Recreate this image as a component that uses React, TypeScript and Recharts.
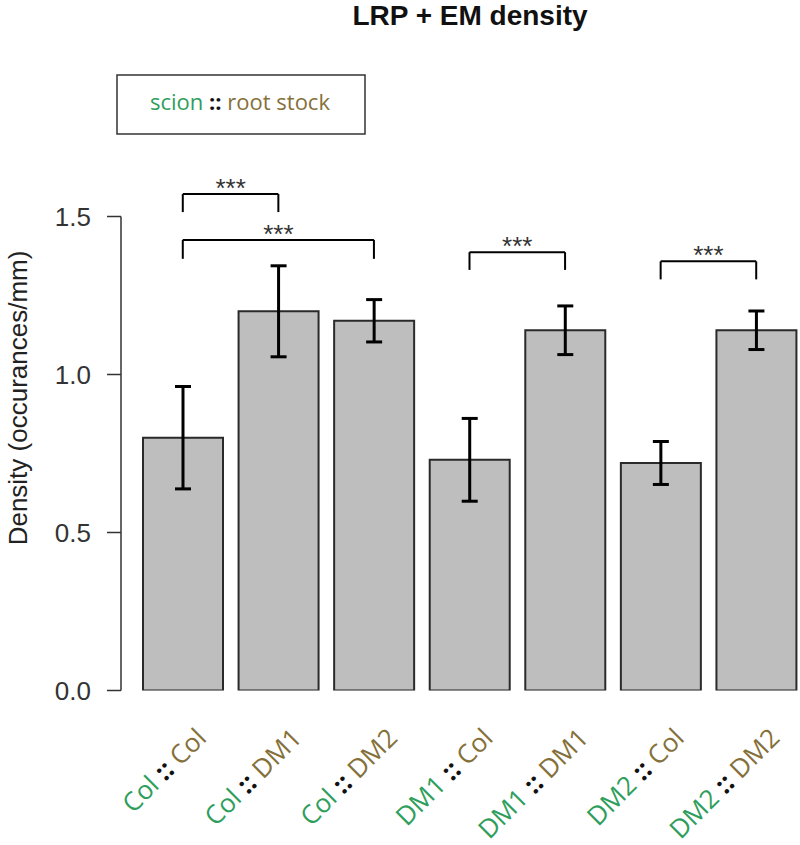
import React from 'react';
import { BarChart, Bar, XAxis, YAxis, ErrorBar, ReferenceLine } from 'recharts';

// ---- data ----
const scions = ['Col', 'Col', 'Col', 'DM1', 'DM1', 'DM2', 'DM2'];
const rootstocks = ['Col', 'DM1', 'DM2', 'Col', 'DM1', 'Col', 'DM2'];
const categories = scions.map((s, i) => `${s} :: ${rootstocks[i]}`);
const density = [0.80, 1.20, 1.17, 0.73, 1.14, 0.72, 1.14];
const stdErr = [0.162, 0.144, 0.067, 0.131, 0.077, 0.068, 0.061];
const yTicks = [0, 0.5, 1.0, 1.5];

// significance brackets
const compFrom = [0, 0, 3, 5];
const compTo = [1, 2, 4, 6];
const compTop = [1.571, 1.426, 1.387, 1.358];
const compLeg = [1.514, 1.366, 1.331, 1.301];
const compLabel = ['***', '***', '***', '***'];

const data = categories.map((name, i) => ({ name, density: density[i], se: stdErr[i] }));

const GREEN = '#2f9e5c';
const BROWN = '#85703a';
const AXIS = '#333333';
const FONT = '"Liberation Sans", Arial, sans-serif';

const XTick = (props: any) => {
  const { x, y, index } = props;
  const ax = x + 25;
  const ay = y + 49;
  return (
    <text
      x={ax}
      y={ay}
      transform={`rotate(-45, ${ax}, ${ay})`}
      textAnchor="end"
      fontFamily='"Open Sans", sans-serif'
      fontSize={26}
      style={{ whiteSpace: 'pre' }}
    >
      <tspan fill={GREEN}>{scions[index]}</tspan>
      <tspan fill="#111" fontWeight="bold"> :: </tspan>
      <tspan fill={BROWN}>{rootstocks[index]}</tspan>
    </text>
  );
};

export default function App() {
  return (
    <div style={{ position: 'absolute', left: 0, top: 0, width: 800, height: 845, overflow: 'hidden', background: '#fff' }}>
      <BarChart
        width={810}
        height={845}
        data={data}
        margin={{ top: 216.5, right: 6, bottom: 0, left: 0 }}
      >
        <XAxis
          dataKey="name"
          axisLine={false}
          tickLine={false}
          tickSize={0}
          tickMargin={0}
          height={154.5}
          interval={0}
          padding={{ left: 14, right: 0 }}
          tick={<XTick />}
        />
        <YAxis
          domain={[0, 1.5]}
          ticks={yTicks}
          allowDataOverflow
          width={121}
          tickSize={14}
          tickMargin={16}
          axisLine={{ stroke: AXIS, strokeWidth: 1.5 }}
          tickLine={{ stroke: AXIS, strokeWidth: 1.5 }}
          tick={{ fill: AXIS, fontSize: 26, fontFamily: FONT }}
          tickFormatter={(v: number) => v.toFixed(1)}
        />
        <Bar dataKey="density" fill="#bebebe" stroke="#2a2a2a" strokeWidth={2} barSize={80} isAnimationActive={false}>
          <ErrorBar dataKey="se" width={8} strokeWidth={3} stroke="#000" direction="y" isAnimationActive={false} />
        </Bar>
        {compFrom.map((f, i) => (
          <ReferenceLine
            key={`h${i}`}
            ifOverflow="visible"
            stroke="#000"
            strokeWidth={2}
            segment={[
              { x: categories[f], y: compTop[i] },
              { x: categories[compTo[i]], y: compTop[i] },
            ]}
            label={{ value: compLabel[i], position: 'top', offset: -3, fill: AXIS, fontSize: 26, fontFamily: FONT }}
          />
        ))}
        {compFrom.map((f, i) => (
          <ReferenceLine
            key={`l${i}`}
            ifOverflow="visible"
            stroke="#000"
            strokeWidth={2}
            segment={[
              { x: categories[f], y: compTop[i] },
              { x: categories[f], y: compLeg[i] },
            ]}
          />
        ))}
        {compTo.map((t, i) => (
          <ReferenceLine
            key={`r${i}`}
            ifOverflow="visible"
            stroke="#000"
            strokeWidth={2}
            segment={[
              { x: categories[t], y: compTop[i] },
              { x: categories[t], y: compLeg[i] },
            ]}
          />
        ))}
      </BarChart>
      <svg
        width={800}
        height={845}
        style={{ position: 'absolute', left: 0, top: 0, pointerEvents: 'none' }}
      >
        <text x={470} y={25} textAnchor="middle" fontFamily={FONT} fontWeight="bold" fontSize={28} fill="#111">
          LRP + EM density
        </text>
        <rect x={117} y={75} width={248} height={59} fill="none" stroke="#333" strokeWidth={1.5} />
        <text x={240} y={110} textAnchor="middle" fontFamily='"Open Sans", sans-serif' fontSize={22} style={{ whiteSpace: 'pre' }}>
          <tspan fill={GREEN}>scion</tspan>
          <tspan fill="#111" fontWeight="bold"> :: </tspan>
          <tspan fill={BROWN}>root stock</tspan>
        </text>
        <text
          x={27}
          y={398}
          transform="rotate(-90, 27, 398)"
          textAnchor="middle"
          fontFamily={FONT}
          fontSize={26}
          fill="#222"
        >
          Density (occurances/mm)
        </text>
      </svg>
    </div>
  );
}
